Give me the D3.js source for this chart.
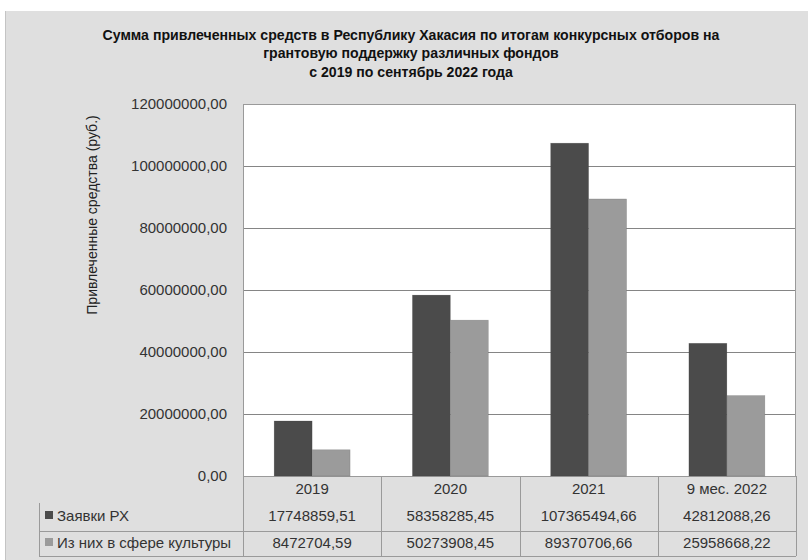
<!DOCTYPE html>
<html><head><meta charset="utf-8">
<script src="https://cdn.jsdelivr.net/npm/d3@7/dist/d3.min.js"></script>
<style>
html,body{margin:0;padding:0;background:#fff;}
svg{display:block;}
</style></head>
<body>
<svg id="chart" width="808" height="560"></svg>
<script>
const titleLines = [
  "Сумма привлеченных средств в Республику Хакасия по итогам конкурсных отборов на",
  "грантовую поддержку различных фондов",
  "с 2019 по сентябрь 2022 года"
];
const yAxisLabel = "Привлеченные средства (руб.)";
const categories = ["2019", "2020", "2021", "9 мес. 2022"];
const seriesNames = ["Заявки РХ", "Из них в сфере культуры"];
const zayavki = [17748859.51, 58358285.45, 107365494.66, 42812088.26];
const kultura = [8472704.59, 50273908.45, 89370706.66, 25958668.22];
const yTicks = [0, 20000000, 40000000, 60000000, 80000000, 100000000, 120000000];
const seriesColors = ["#4b4b4b", "#9b9b9b"];

const seriesValues = [zayavki, kultura];
const loc = d3.formatLocale({decimal: ",", thousands: "", grouping: [3], currency: ["", ""]});
const fmt = loc.format(".2f");

const svg = d3.select("#chart");
const W = 808, H = 560;
const plot = {left: 243, right: 796, top: 104, bottom: 476};
const table = {legendLeft: 39, row1: 503, row2: 531, bottom: 556};
const FONT = "'Liberation Sans', Arial, sans-serif";

// background
svg.append("rect").attr("x", 5).attr("y", 11).attr("width", W - 5).attr("height", H - 11)
  .attr("fill", "#dfdfdf");
svg.append("line").attr("x1", 5.5).attr("x2", 5.5).attr("y1", 11).attr("y2", H)
  .attr("stroke", "#c4c4c4");

// title
const title = svg.append("g").attr("font-family", FONT).attr("font-weight", "bold")
  .attr("fill", "#111").attr("text-anchor", "middle");
const tl = title.selectAll("text").data(titleLines).join("text")
  .attr("x", 411).attr("y", (d, i) => [40, 58, 77][i])
  .attr("font-size", 13).text(d => d);
const w0 = tl.node().getComputedTextLength();
const fs = 13 * 617 / w0;
tl.attr("font-size", Math.min(fs, 14.5));
tl.each(function(d, i) {
  const w = this.getComputedTextLength();
  if (i === 0 && Math.abs(w - 617) > 2) {
    d3.select(this).attr("textLength", 617).attr("lengthAdjust", "spacingAndGlyphs");
  }
});

// scales
const x = d3.scaleBand().domain(categories).range([plot.left, plot.right]).padding(0);
const xs = d3.scaleBand().domain(seriesNames).range([0, x.bandwidth()])
  .paddingInner(0).paddingOuter(0.82);
const y = d3.scaleLinear().domain([0, 120000000]).range([plot.bottom, plot.top]);

// plot area
svg.append("rect").attr("x", plot.left).attr("y", plot.top)
  .attr("width", plot.right - plot.left).attr("height", plot.bottom - plot.top)
  .attr("fill", "#ffffff");

// gridlines + y labels
const yAxis = d3.axisLeft(y).tickValues(yTicks).tickFormat(fmt)
  .tickSizeInner(-(plot.right - plot.left)).tickSizeOuter(0).tickPadding(16);
const ga = svg.append("g").attr("transform", `translate(${plot.left},0)`).call(yAxis);
ga.select(".domain").remove();
ga.selectAll(".tick line").attr("stroke", "#858585").attr("stroke-width", 1);
ga.selectAll(".tick text").attr("font-family", FONT).attr("font-size", 15)
  .attr("fill", "#333");

// plot border
svg.append("rect").attr("x", plot.left + 0.5).attr("y", plot.top + 0.5)
  .attr("width", plot.right - plot.left - 1).attr("height", plot.bottom - plot.top)
  .attr("fill", "none").attr("stroke", "#9a9a9a");

// bars
const groups = svg.append("g").selectAll("g").data(seriesNames).join("g")
  .attr("fill", (d, i) => seriesColors[i]);
groups.selectAll("rect").data((s, si) => categories.map((c, ci) => ({s, c, v: seriesValues[si][ci]})))
  .join("rect")
  .attr("x", d => x(d.c) + xs(d.s))
  .attr("width", xs.bandwidth())
  .attr("y", d => y(d.v))
  .attr("height", d => y(0) - y(d.v))
  .attr("stroke", "#3a3a3a").attr("stroke-opacity", 0.25).attr("stroke-width", 0.6);

// y axis title
svg.append("text").attr("transform", "translate(97,215) rotate(-90)")
  .attr("text-anchor", "middle").attr("font-family", FONT).attr("font-size", 14)
  .attr("fill", "#222").text(yAxisLabel);

// data table
const tg = svg.append("g").attr("stroke", "#9a9a9a").attr("stroke-width", 1);
const vx = categories.map(c => x(c)).concat([plot.right]);
tg.selectAll("line.v").data(vx).join("line").attr("class", "v")
  .attr("x1", d => Math.round(d) + 0.5).attr("x2", d => Math.round(d) + 0.5)
  .attr("y1", plot.bottom).attr("y2", table.bottom);
tg.append("line").attr("x1", table.legendLeft + 0.5).attr("x2", table.legendLeft + 0.5)
  .attr("y1", table.row1).attr("y2", table.bottom);
tg.append("line").attr("x1", table.legendLeft).attr("x2", plot.right)
  .attr("y1", table.row2 + 0.5).attr("y2", table.row2 + 0.5);
tg.append("line").attr("x1", table.legendLeft).attr("x2", plot.right)
  .attr("y1", table.bottom + 0.5).attr("y2", table.bottom + 0.5);

const tt = svg.append("g").attr("font-family", FONT).attr("font-size", 15)
  .attr("fill", "#333").attr("text-anchor", "middle");
tt.selectAll("text.cat").data(categories).join("text").attr("class", "cat")
  .attr("x", d => x(d) + x.bandwidth() / 2).attr("y", 494).text(d => d);
const rowY = [521, 548];
seriesValues.forEach((vals, si) => {
  tt.selectAll("text.s" + si).data(vals).join("text").attr("class", "s" + si)
    .attr("x", (d, i) => x(categories[i]) + x.bandwidth() / 2)
    .attr("y", rowY[si]).text(d => fmt(d));
});

// legend rows
const lg = svg.append("g").attr("font-family", FONT).attr("font-size", 15).attr("fill", "#333");
seriesNames.forEach((name, si) => {
  lg.append("rect").attr("x", 45).attr("y", rowY[si] - 10).attr("width", 8).attr("height", 8)
    .attr("fill", seriesColors[si]);
  lg.append("text").attr("x", 57).attr("y", rowY[si]).text(name);
});
</script>
</body></html>
